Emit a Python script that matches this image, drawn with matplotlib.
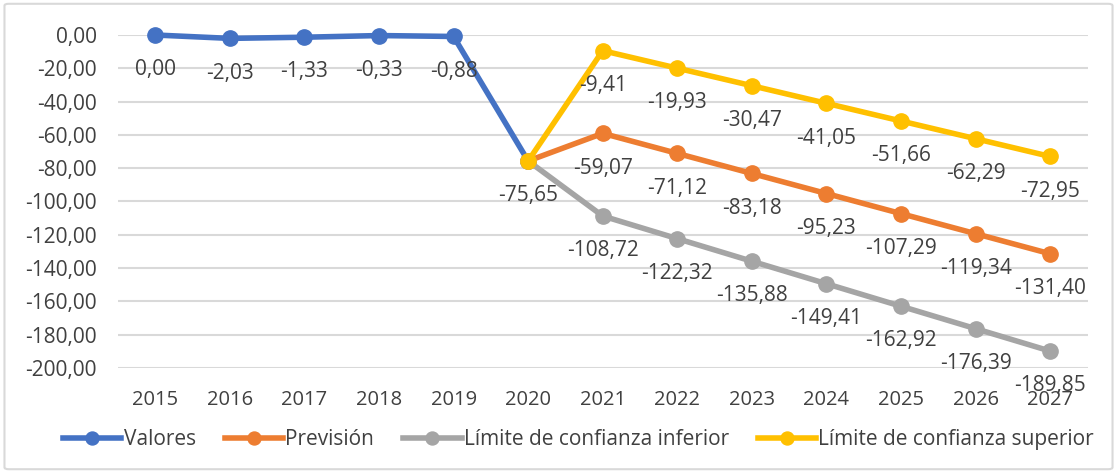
import matplotlib
matplotlib.use("Agg")
import matplotlib.pyplot as plt
from matplotlib.ticker import FuncFormatter, MultipleLocator
from matplotlib.patches import FancyBboxPatch

years = [2015, 2016, 2017, 2018, 2019, 2020, 2021, 2022, 2023, 2024, 2025, 2026, 2027]
valores_years = [2015, 2016, 2017, 2018, 2019, 2020]
valores = [0.00, -2.03, -1.33, -0.33, -0.88, -75.65]
prev_years = [2020, 2021, 2022, 2023, 2024, 2025, 2026, 2027]
prevision = [-75.65, -59.07, -71.12, -83.18, -95.23, -107.29, -119.34, -131.40]
lim_inferior = [-75.65, -108.72, -122.32, -135.88, -149.41, -162.92, -176.39, -189.85]
lim_superior = [-75.65, -9.41, -19.93, -30.47, -41.05, -51.66, -62.29, -72.95]

series = [
    ("Valores", valores_years, valores, "#4472C4"),
    ("Previsión", prev_years, prevision, "#ED7D31"),
    ("Límite de confianza inferior", prev_years, lim_inferior, "#A5A5A5"),
    ("Límite de confianza superior", prev_years, lim_superior, "#FFC000"),
]

def fmt(v):
    return ("%.2f" % v).replace(".", ",")

font = ["Open Sans", "DejaVu Sans"]
txt_color = "#404040"

fig = plt.figure(figsize=(11.17, 4.73), dpi=100)
fig.patches.append(FancyBboxPatch((0.004, 0.008), 0.992, 0.984, boxstyle="round,pad=0,rounding_size=0.004",
                                  transform=fig.transFigure, facecolor="white", edgecolor="#D9D9D9",
                                  lw=1.5, zorder=-10))
ax = fig.add_axes([0.1056, 0.222, 0.868, 0.704])
ax.set_facecolor("none")

for i, (name, xs, ys, col) in enumerate(series):
    idx = [years.index(x) for x in xs]
    ax.plot(idx, ys, "-o", color=col, lw=4, ms=11, label=name, zorder=3 + i, clip_on=False)
    # the shared 2020 point is labelled only once
    start = 0 if i == 0 else 1
    for xi, y in list(zip(idx, ys))[start:]:
        ax.annotate(fmt(y), (xi, y), xytext=(0, -25), textcoords="offset points",
                    ha="center", va="center", fontsize=15, color=txt_color,
                    family=font, zorder=10)

ax.set_xlim(-0.5, len(years) - 0.5)
ax.set_ylim(-200, 0)
ax.yaxis.set_major_locator(MultipleLocator(20))
ax.yaxis.set_major_formatter(FuncFormatter(lambda v, p: fmt(v)))
ax.set_xticks(range(len(years)))
ax.set_xticklabels([str(y) for y in years], color=txt_color, family=font, fontsize=14.5)
for t in ax.get_yticklabels():
    t.set_family(font)
    t.set_fontsize(15)
    t.set_color(txt_color)
ax.tick_params(axis="x", length=0, pad=16)
ax.tick_params(axis="y", length=0, pad=15)
ax.grid(axis="y", color="#D9D9D9", lw=1.5, zorder=0)
ax.set_axisbelow(True)
for s in ax.spines.values():
    s.set_visible(False)

leg = fig.legend(loc="center", bbox_to_anchor=(0.518, 0.07), ncol=4, frameon=False,
                 prop={"family": font, "size": 15}, handlelength=2.8, columnspacing=1.4,
                 handletextpad=0.1, labelcolor=txt_color, markerscale=0.85)

fig.savefig("out.png", dpi=100)
